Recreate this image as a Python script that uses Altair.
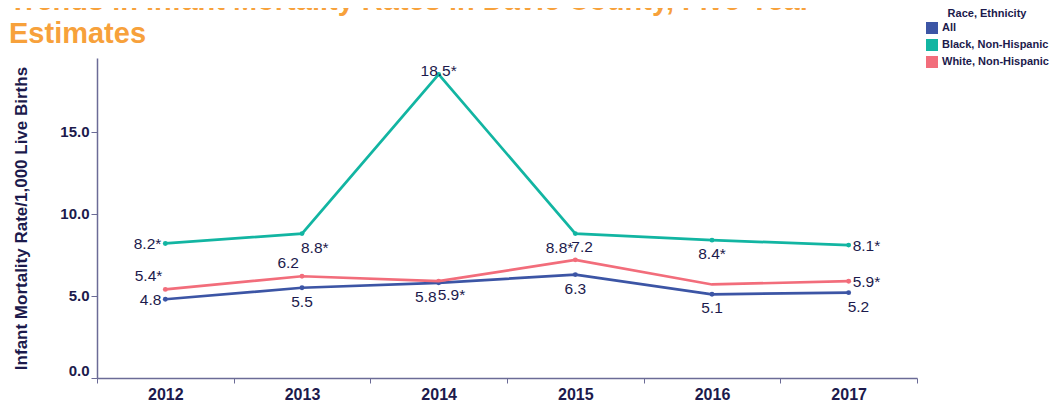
import altair as alt
import pandas as pd

years = ["2012", "2013", "2014", "2015", "2016", "2017"]
series_names = ["All", "Black, Non-Hispanic", "White, Non-Hispanic"]
all_vals = [4.8, 5.5, 5.8, 6.3, 5.1, 5.2]
black_vals = [8.2, 8.8, 18.5, 8.8, 8.4, 8.1]
white_vals = [5.4, 6.2, 5.9, 7.2, 5.7, 5.9]
# "*" marks an unstable estimate
all_star = [False, False, False, False, False, False]
black_star = [True, True, True, True, True, True]
white_star = [True, False, True, False, False, True]
# whether the point/label is drawn
all_shown = [True, True, True, True, True, True]
black_shown = [True, True, True, True, True, True]
white_shown = [True, True, True, True, False, True]

# label placement (style): key per series -> per year
placement = {
    "All": ["L", "B", "BL", "B", "B", "BR"],
    "Black, Non-Hispanic": ["L", "BR", "C", "BL", "B", "R"],
    "White, Non-Hispanic": ["AL", "AL", "BR", "AR", "B", "R"],
}
place_style = {
    "L": dict(align="right", dx=-4, dy=5.5),
    "R": dict(align="left", dx=4, dy=5.5),
    "B": dict(align="center", dx=0, dy=19),
    "BR": dict(align="left", dx=-1, dy=19),
    "BL": dict(align="right", dx=-2, dy=19),
    "AL": dict(align="right", dx=-3, dy=-8),
    "AR": dict(align="left", dx=-4, dy=-8),
    "C": dict(align="center", dx=0, dy=2),
}

rows = []
for name, vals, stars, shown in [
    (series_names[0], all_vals, all_star, all_shown),
    (series_names[1], black_vals, black_star, black_shown),
    (series_names[2], white_vals, white_star, white_shown),
]:
    for i, y in enumerate(years):
        rows.append(
            dict(
                year=y,
                series=name,
                value=vals[i],
                label=f"{vals[i]:.1f}" + ("*" if stars[i] else ""),
                shown=shown[i],
                place=placement[name][i],
            )
        )
df = pd.DataFrame(rows)

FONT = "Liberation Sans, Arial, sans-serif"
NAVY = "#1c1a4c"
AXIS_COL = "#6b6b96"
colors = ["#3C55A5", "#12B5A2", "#F26D7B"]

legend = alt.Legend(
    title="Race, Ethnicity",
    orient="none",
    legendX=829,
    legendY=-50,
    titleFont=FONT,
    titleFontSize=11,
    titleFontWeight="bold",
    titleColor=NAVY,
    titleAnchor="middle",
    titlePadding=3,
    labelFont=FONT,
    labelFontSize=11,
    labelFontWeight="bold",
    labelColor=NAVY,
    labelOffset=4,
    symbolType="square",
    symbolSize=144,
    symbolStrokeWidth=0,
    symbolOpacity=1,
    rowPadding=5,
    padding=0,
)

color = alt.Color(
    "series:N",
    scale=alt.Scale(domain=series_names, range=colors),
    legend=legend,
)

x = alt.X(
    "year:O",
    scale=alt.Scale(type="band", paddingInner=0, paddingOuter=0),
    axis=alt.Axis(
        title=None,
        labelAngle=0,
        tickBand="extent",
        labelFont=FONT,
        labelFontSize=16,
        labelFontWeight="bold",
        labelColor=NAVY,
        domainColor=AXIS_COL,
        tickColor=AXIS_COL,
        domainWidth=1.5,
        tickWidth=1,
        tickSize=5,
        labelPadding=3,
        grid=False,
    ),
)
y = alt.Y(
    "value:Q",
    scale=alt.Scale(domain=[0, 19.5], nice=False, zero=True),
    axis=alt.Axis(
        title="Infant Mortality Rate/1,000 Live Births",
        titleFont=FONT,
        titleFontSize=17,
        titleFontWeight="bold",
        titleColor=NAVY,
        titlePadding=29.5,
        values=[0, 5, 10, 15],
        format=".1f",
        labelFlush=True,
        labelFont=FONT,
        labelFontSize=15,
        labelFontWeight="bold",
        labelColor=NAVY,
        domainColor=AXIS_COL,
        tickColor=AXIS_COL,
        domainWidth=1.5,
        tickSize=6,
        labelPadding=2,
        grid=False,
    ),
)

base = alt.Chart(df)

points = (
    base.transform_filter(alt.datum.shown)
    .mark_circle(size=24, opacity=1)
    .encode(x=x, y=y, color=color)
)
lines = base.mark_line(strokeWidth=2.7).encode(x=x, y=y, color=color, order="year:O")

text_layers = []
for key, st in place_style.items():
    text_layers.append(
        base.transform_filter(alt.datum.shown)
        .transform_filter(alt.datum.place == key)
        .mark_text(
            align=st["align"],
            dx=st["dx"],
            dy=st["dy"],
            baseline="alphabetic",
            font=FONT,
            fontSize=15.5,
            color=NAVY,
        )
        .encode(x=x, y=y, text="label:N")
    )

chart = (
    alt.layer(points, lines, *text_layers)
    .properties(
        width=820,
        height=320,
        title=alt.TitleParams(
            text=["Trends in Infant Mortality Rates in Davie County, Five-Year", "Estimates"],
            font=FONT,
            fontSize=29,
            fontWeight="bold",
            color="#F7A13B",
            anchor="start",
            frame="group",
            orient="top",
            offset=0,
            dx=-88,
            dy=70,
            lineHeight=33,
            baseline="bottom",
        ),
        autosize=alt.AutoSizeParams(type="none"),
        padding={"left": 89, "top": 50, "right": 139, "bottom": 24},
    )
    .configure_view(stroke=None)
)

chart.save("out.html", embed_options={"renderer": "svg", "actions": False})
